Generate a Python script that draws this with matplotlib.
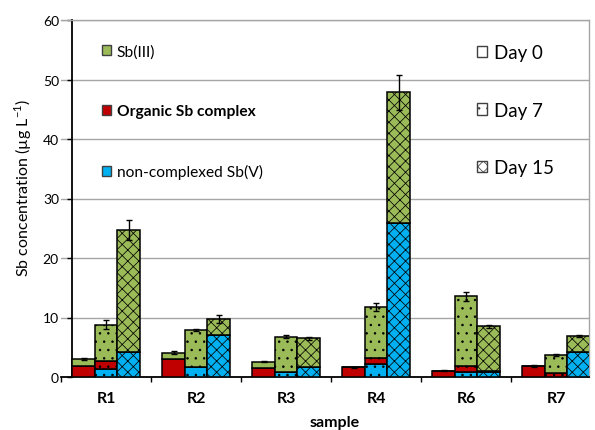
import numpy as np
import matplotlib
matplotlib.use("Agg")
import matplotlib.pyplot as plt
from matplotlib.patches import Patch

plt.rcParams['font.family'] = ['Lato', 'DejaVu Sans']
plt.rcParams['mathtext.fontset'] = 'custom'
plt.rcParams['mathtext.rm'] = 'Lato'
plt.rcParams['hatch.linewidth'] = 0.55

# Samples and sampling days
samples = ["R1", "R2", "R3", "R4", "R6", "R7"]
days = ["Day 0", "Day 7", "Day 15"]

# Sb species (µg/L), rows = samples, columns = days
sb5_free = np.array([
    [0.0, 1.35, 4.25],
    [0.0, 1.6, 7.1],
    [0.0, 0.8, 1.6],
    [0.0, 2.2, 25.8],
    [0.0, 0.9, 0.8],
    [0.0, 0.0, 4.25],
])
organic = np.array([
    [1.9, 1.4, 0.0],
    [3.1, 0.0, 0.0],
    [1.45, 0.1, 0.0],
    [1.6, 1.0, 0.0],
    [1.06, 1.0, 0.25],
    [1.8, 0.6, 0.0],
])
sb3 = np.array([
    [1.1, 6.05, 20.45],
    [1.0, 6.35, 2.65],
    [1.15, 5.9, 4.9],
    [0.0, 8.6, 22.05],
    [0.0, 11.65, 7.45],
    [0.0, 3.1, 2.65],
])
# Standard deviation of the total concentration
total_err = np.array([
    [0.2, 0.7, 1.65],
    [0.3, 0.15, 0.65],
    [0.15, 0.3, 0.2],
    [0.15, 0.7, 2.9],
    [0.1, 0.7, 0.3],
    [0.15, 0.2, 0.2],
])

species_labels = ["Sb(III)", "Organic Sb complex", "non-complexed Sb(V)"]
c_green, c_red, c_blue = "#9BBB59", "#C00000", "#00B0F0"
hatches = ["", "..", "xxx"]

W, H = 595, 431
fig = plt.figure(figsize=(W / 100, H / 100), dpi=100)
ax = fig.add_axes([61 / W, 53 / H, 528 / W, 357 / H])

x = np.arange(len(samples))
bw = 0.25
offsets = [-bw, 0.0, bw]

for d in range(len(days)):
    xs = x + offsets[d]
    h = hatches[d]
    ax.bar(xs, sb5_free[:, d], bw, color=c_blue, edgecolor="black",
           linewidth=1.1, hatch=h, zorder=3)
    ax.bar(xs, organic[:, d], bw, bottom=sb5_free[:, d], color=c_red,
           edgecolor="black", linewidth=1.1, hatch=h, zorder=3)
    base = sb5_free[:, d] + organic[:, d]
    ax.bar(xs, sb3[:, d], bw, bottom=base, color=c_green,
           edgecolor="black", linewidth=1.1, hatch=h, zorder=3)
    total = base + sb3[:, d]
    ax.errorbar(xs, total, yerr=total_err[:, d], fmt="none", ecolor="black",
                elinewidth=1.0, capsize=2, capthick=1.0, zorder=4)

ax.set_xlim(-0.5, -0.5 + 528 / 90)
ax.set_ylim(0, 60)
ax.set_yticks(np.arange(0, 61, 10))
ax.yaxis.grid(True, color="#a6a6a6", linewidth=1.0, zorder=0)
ax.set_axisbelow(True)

# category boundaries as ticks, names centred between them
ax.set_xticks(np.arange(-0.5, 5, 1.0))
ax.set_xticklabels([])
ax.set_xticks(x, minor=True)
ax.set_xticklabels(samples, minor=True, fontweight="bold", fontsize=11.5)
ax.tick_params(axis="x", which="major", direction="out", length=3.5,
               width=1.0, color="black")
ax.tick_params(axis="x", which="minor", length=0, pad=10)
ax.tick_params(axis="y", direction="out", length=3.6, width=1.0, pad=6)
for lab in ax.get_yticklabels():
    lab.set_fontweight("bold")
    lab.set_fontsize(11.5)

ax.spines["left"].set_position(("data", -0.375))
ax.spines["left"].set_linewidth(1.3)
ax.spines["bottom"].set_linewidth(1.3)
ax.spines["top"].set_color("#a6a6a6")
ax.spines["top"].set_linewidth(1.0)
ax.spines["right"].set_color("#a6a6a6")
ax.spines["right"].set_linewidth(1.0)

fig.text(23 / W, 1 - 188 / H, r"Sb concentration (µg L$^{-1}$)",
         rotation=90, ha="center", va="center", fontsize=11.5)
fig.text(335 / W, 1 - 423 / H, "sample", ha="center", va="center",
         fontsize=11.5, fontweight="bold")

# species legend
sp_handles = [Patch(facecolor=c, edgecolor="#404040", linewidth=1.0)
              for c in (c_green, c_red, c_blue)]
leg1 = ax.legend(sp_handles, species_labels, loc="upper left",
                 bbox_to_anchor=(102 / W, 1 - 45 / H),
                 bbox_transform=fig.transFigure, frameon=False,
                 fontsize=11.2, handlelength=0.6, handleheight=0.6,
                 handletextpad=0.35, labelspacing=2.95, borderpad=0,
                 borderaxespad=0)
leg1.get_texts()[1].set_fontweight("bold")
ax.add_artist(leg1)

# sampling-day legend
day_handles = [Patch(facecolor="white", edgecolor="#404040", linewidth=1.0,
                     hatch=h) for h in hatches]
leg2 = ax.legend(day_handles, days, loc="upper left",
                 bbox_to_anchor=(477 / W, 1 - 45 / H),
                 bbox_transform=fig.transFigure, frameon=False,
                 fontsize=13.5, handlelength=0.55, handleheight=0.55,
                 handletextpad=0.35, labelspacing=2.17, borderpad=0,
                 borderaxespad=0)

fig.savefig("out.png", dpi=100)
